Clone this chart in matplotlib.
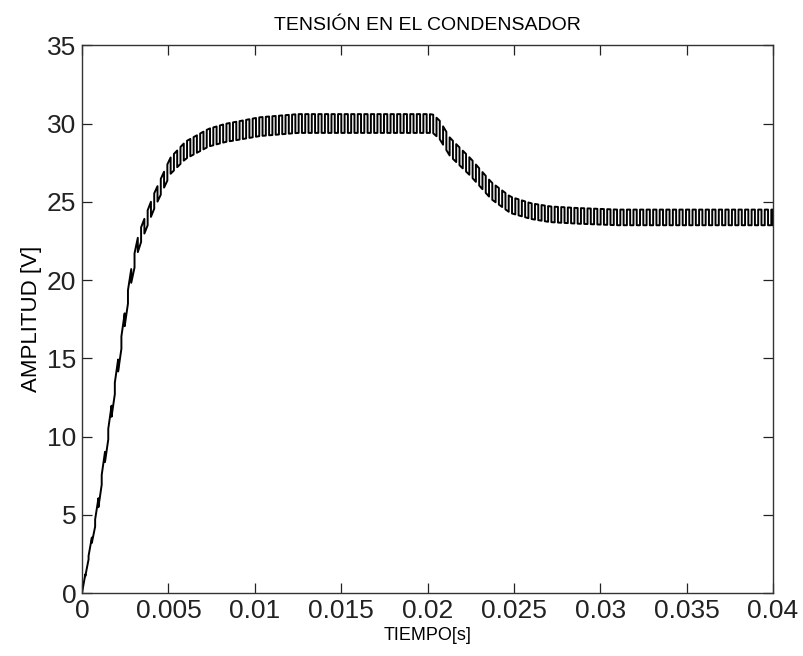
import numpy as np
import matplotlib
matplotlib.use("Agg")
import matplotlib.pyplot as plt

plt.rcParams['font.family'] = ['Liberation Sans', 'DejaVu Sans']

# ==============================================================================
# mean capacitor voltage
t_mean = [0, 0.00042, 0.00085, 0.0015, 0.00215, 0.0028, 0.00328, 0.00416,
          0.00512, 0.0060, 0.00734, 0.0083, 0.0103, 0.0125, 0.015, 0.0203,
          0.0207, 0.0213, 0.0225, 0.0237, 0.0248, 0.0260, 0.0271, 0.0287,
          0.031, 0.035, 0.04]
v_mean = [0, 2.5, 5, 10, 15, 20, 22.5, 25, 27.3, 28.3, 29.1, 29.4, 29.8,
          30.0, 30.0, 30.0, 29.6, 28.5, 27.2, 25.7, 24.8, 24.4, 24.2, 24.1,
          24.0, 24.0, 24.0]

# half amplitude of the ripple band
t_ripple = [0, 0.001, 0.003, 0.006, 0.010, 0.020, 0.026, 0.040]
v_ripple = [0.0, 0.3, 0.45, 0.55, 0.6, 0.6, 0.5, 0.5]

half_period = 0.00019   # visible spacing of the ripple edges

xticks = [0, 0.005, 0.01, 0.015, 0.02, 0.025, 0.03, 0.035, 0.04]
xtick_labels = ["0", "0.005", "0.01", "0.015", "0.02", "0.025", "0.03", "0.035", "0.04"]
yticks = [0, 5, 10, 15, 20, 25, 30, 35]

# ==============================================================================
# build square-ish ripple around the mean curve
edges = np.arange(0, 0.04 + half_period / 2, half_period)
tt, vv = [], []
for k, te in enumerate(edges):
    m = np.interp(te, t_mean, v_mean)
    a = np.interp(te, t_ripple, v_ripple)
    s = 1 if k % 2 == 0 else -1
    tt += [te, te]
    vv += [m - s * a, m + s * a]
tt = np.clip(tt, 0, 0.04)
vv = np.clip(vv, 0, None)

fig = plt.figure(figsize=(8.04, 6.56), dpi=100)
ax = fig.add_axes([0.102, 0.096, 0.8595, 0.835])
ax.plot(tt, vv, color="black", lw=1.4)

ax.set_xlim(0, 0.04)
ax.set_ylim(0, 35)
ax.set_xticks(xticks)
ax.set_xticklabels(xtick_labels)
ax.set_yticks(yticks)
ax.tick_params(direction="in", length=7, width=0.9, labelsize=19,
               top=True, right=True, pad=4, colors="#222222")
for sp in ax.spines.values():
    sp.set_linewidth(1.0)
    sp.set_color("#333333")

ax.set_title("TENSIÓN EN EL CONDENSADOR", fontsize=14, pad=11)
ax.set_xlabel("TIEMPO[s]", fontsize=13, labelpad=3)
ax.set_ylabel("AMPLITUD [V]", fontsize=16, labelpad=4)

fig.savefig("out.png", dpi=100)
